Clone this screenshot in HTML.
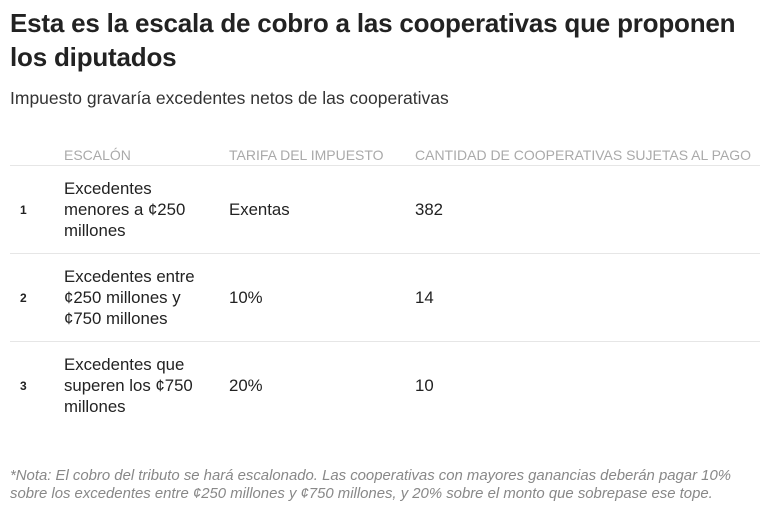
<!DOCTYPE html>
<html><head><meta charset="utf-8"><style>
body{margin:0;width:765px;height:507px;background:#fff;font-family:"Liberation Sans",sans-serif;color:#222;position:relative;overflow:hidden}
.t{position:absolute;left:10px;top:6px;font-size:26px;font-weight:bold;line-height:34px;color:#222;width:740px;letter-spacing:-0.2px}
.s{position:absolute;left:10px;top:88px;font-size:17.5px;color:#333}
.h{position:absolute;top:147px;font-size:14px;color:#aaa;text-transform:uppercase}
.line{position:absolute;left:10px;width:750px;height:1px;background:#e6e6e6}
.n{position:absolute;left:20px;font-size:12px;font-weight:bold}
.c{position:absolute;font-size:16.8px;line-height:21px}
.note{position:absolute;left:10px;top:467px;font-size:14.9px;font-style:italic;color:#888;line-height:18px;width:755px}
</style></head><body>
<div class="t">Esta es la escala de cobro a las cooperativas que proponen los diputados</div>
<div class="s">Impuesto gravaría excedentes netos de las cooperativas</div>
<div class="h" style="left:64px">Escalón</div>
<div class="h" style="left:229px">Tarifa del impuesto</div>
<div class="h" style="left:415px">Cantidad de cooperativas sujetas al pago</div>
<div class="line" style="top:165px"></div>
<div class="line" style="top:253px"></div>
<div class="line" style="top:341px"></div>

<div class="n" style="top:203px">1</div>
<div class="c" style="left:64px;top:178px">Excedentes<br>menores a ¢250<br>millones</div>
<div class="c" style="left:229px;top:199px">Exentas</div>
<div class="c" style="left:415px;top:199px">382</div>

<div class="n" style="top:291px">2</div>
<div class="c" style="left:64px;top:266px">Excedentes entre<br>¢250 millones y<br>¢750 millones</div>
<div class="c" style="left:229px;top:287px">10%</div>
<div class="c" style="left:415px;top:287px">14</div>

<div class="n" style="top:379px">3</div>
<div class="c" style="left:64px;top:354px">Excedentes que<br>superen los ¢750<br>millones</div>
<div class="c" style="left:229px;top:375px">20%</div>
<div class="c" style="left:415px;top:375px">10</div>

<div class="note">*Nota: El cobro del tributo se hará escalonado. Las cooperativas con mayores ganancias deberán pagar 10%<br>sobre los excedentes entre ¢250 millones y ¢750 millones, y 20% sobre el monto que sobrepase ese tope.</div>
</body></html>
